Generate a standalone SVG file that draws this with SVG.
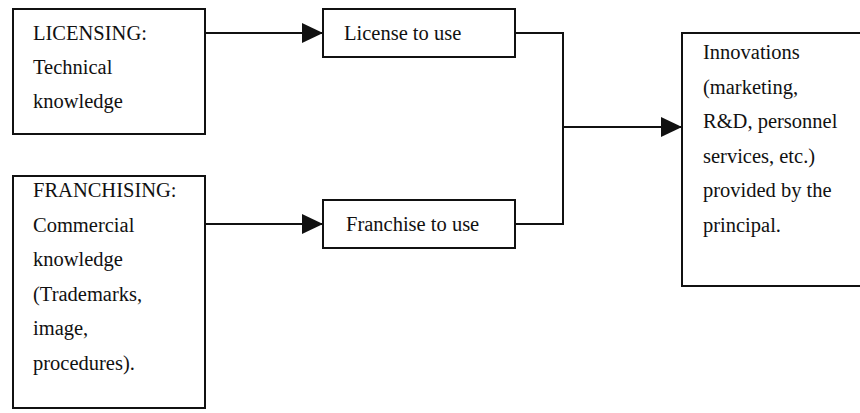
<svg xmlns="http://www.w3.org/2000/svg" width="860" height="413" viewBox="0 0 860 413">
<style>
.box{fill:#fff;stroke:#111;stroke-width:2}
.ln{fill:none;stroke:#111;stroke-width:2}
text{font-family:"Liberation Serif","Times New Roman",serif;font-size:20.5px;fill:#111}
</style>
<defs>
<marker id="ah" markerUnits="userSpaceOnUse" markerWidth="21" markerHeight="20" refX="21" refY="10" orient="auto">
<path d="M0,0 L21,10 L0,20 z" fill="#111"/>
</marker>
</defs>
<rect width="860" height="413" fill="#fff"/>
<g id="connectors">
<line class="ln" x1="205" y1="33" x2="323" y2="33" marker-end="url(#ah)"/>
<line class="ln" x1="205" y1="224" x2="323" y2="224" marker-end="url(#ah)"/>
<polyline class="ln" points="515,33 563,33 563,224 515,224"/>
<line class="ln" x1="563" y1="127" x2="682" y2="127" marker-end="url(#ah)"/>
</g>
<g id="licensing">
<rect class="box" x="13" y="9" width="192" height="125"/>
<text x="33" y="40">LICENSING:</text>
<text x="33" y="74">Technical</text>
<text x="33" y="108">knowledge</text>
</g>
<g id="franchising">
<rect class="box" x="13" y="176" width="192" height="232"/>
<text x="33" y="197">FRANCHISING:</text>
<text x="33" y="231.5">Commercial</text>
<text x="33" y="266">knowledge</text>
<text x="33" y="300.5">(Trademarks,</text>
<text x="33" y="335">image,</text>
<text x="33" y="369.5">procedures).</text>
</g>
<g id="license">
<rect class="box" x="323" y="9" width="192" height="48"/>
<text x="344" y="40">License to use</text>
</g>
<g id="franchise">
<rect class="box" x="323" y="200" width="192" height="48"/>
<text x="346" y="231">Franchise to use</text>
</g>
<g id="innovations">
<rect class="box" x="682" y="33" width="200" height="253"/>
<text x="703" y="59">Innovations</text>
<text x="703" y="93.5">(marketing,</text>
<text x="703" y="128">R&amp;D, personnel</text>
<text x="703" y="162.5">services, etc.)</text>
<text x="703" y="197">provided by the</text>
<text x="703" y="231.5">principal.</text>
</g>
</svg>
